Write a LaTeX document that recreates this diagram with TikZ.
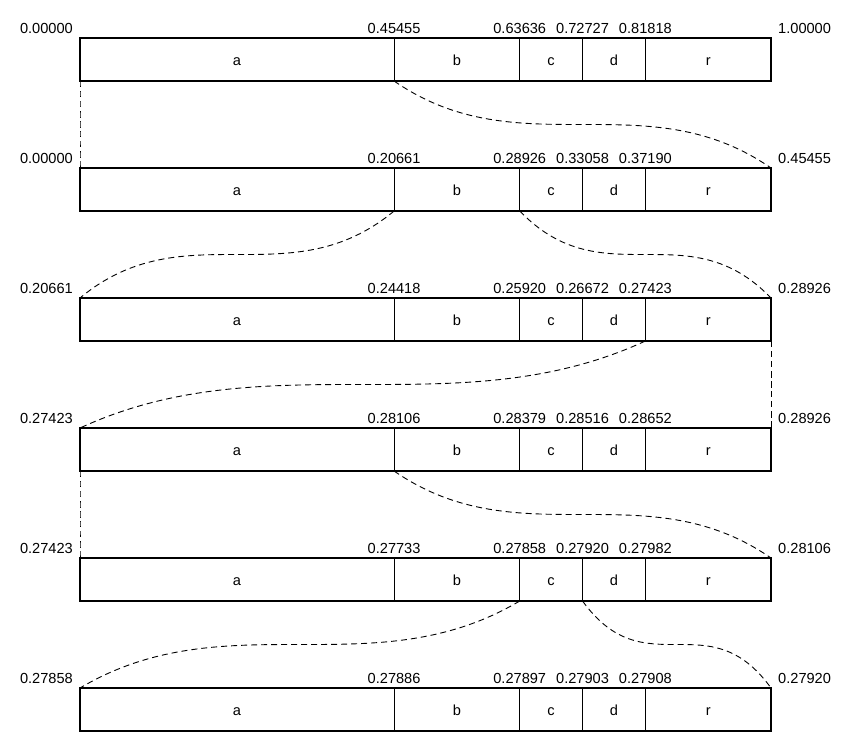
\documentclass[tikz,border=0pt]{standalone}
\usepackage{fontspec}
\setmainfont{Liberation Sans}
\usetikzlibrary{calc,positioning}
\newcommand\symw{62.8182pt}
\tikzset{
    segbox/.style={draw=black,line width=1.1pt,inner sep=0pt,outer sep=0pt,minimum height=43pt,
      text height=12pt,text depth=0pt},
    barframe/.style={draw=black,line width=2.2pt,line join=round},
    flowline/.style={draw=black,line width=0.9pt,dash pattern=on 6pt off 4pt},
    numlabel/.style={inner sep=0pt},
    every node/.style={font=\fontsize{14.6}{17}\selectfont}
}
% 两个区间端点之间的虚线 S 形曲线
\newcommand\flow[2]{%
  \draw[flowline] let \p1=(#1), \p2=(#2) in
    (\p1) .. controls ({\x1+(\x2-\x1)/3},\y2) and ({\x2-(\x2-\x1)/3},\y1) .. (\p2);}

\begin{document}
\begin{tikzpicture}[x=1pt,y=1pt]
  \useasboundingbox (0,0) rectangle (853,-745);

  % 六个区间条
  \foreach \row/\lo/\pb/\pc/\pd/\pr/\hi in {
      1/0.00000/0.45455/0.63636/0.72727/0.81818/1.00000,
      2/0.00000/0.20661/0.28926/0.33058/0.37190/0.45455,
      3/0.20661/0.24418/0.25920/0.26672/0.27423/0.28926,
      4/0.27423/0.28106/0.28379/0.28516/0.28652/0.28926,
      5/0.27423/0.27733/0.27858/0.27920/0.27982/0.28106,
      6/0.27858/0.27886/0.27897/0.27903/0.27908/0.27920}{
    \pgfmathsetmacro\ytop{-38-130*(\row-1)}
    \node[segbox,minimum width={5*\symw},anchor=north west] (a\row) at (80,\ytop) {a};
    \node[segbox,minimum width={2*\symw},right=0pt of a\row] (b\row) {b};
    \node[segbox,minimum width={\symw},right=0pt of b\row] (c\row) {c};
    \node[segbox,minimum width={\symw},right=0pt of c\row] (d\row) {d};
    \node[segbox,minimum width={2*\symw},right=0pt of d\row] (r\row) {r};
    \draw[barframe] (a\row.north west) rectangle (r\row.south east);

    % 端点数值
    \node[numlabel,anchor=base east] (lo\row) at ($(a\row.north west)+(-7,5)$) {\lo};
    \node[numlabel,anchor=base] (pb\row) at ($(b\row.north west)+(0,5)$) {\pb};
    \node[numlabel,anchor=base] (pc\row) at ($(c\row.north west)+(0,5)$) {\pc};
    \node[numlabel,anchor=base] (pd\row) at ($(d\row.north west)+(0,5)$) {\pd};
    \node[numlabel,anchor=base] (pr\row) at ($(r\row.north west)+(0,5)$) {\pr};
    \node[numlabel,anchor=base west] (hi\row) at ($(r\row.north east)+(7,5)$) {\hi};
  }

  % 选中的子区间展开到下一行
  \flow{a1.south west}{a2.north west}
  \flow{a1.south east}{r2.north east}

  \flow{b2.south west}{a3.north west}
  \flow{b2.south east}{r3.north east}

  \flow{r3.south west}{a4.north west}
  \flow{r3.south east}{r4.north east}

  \flow{a4.south west}{a5.north west}
  \flow{a4.south east}{r5.north east}

  \flow{c5.south west}{a6.north west}
  \flow{c5.south east}{r6.north east}

\end{tikzpicture}
\end{document}
